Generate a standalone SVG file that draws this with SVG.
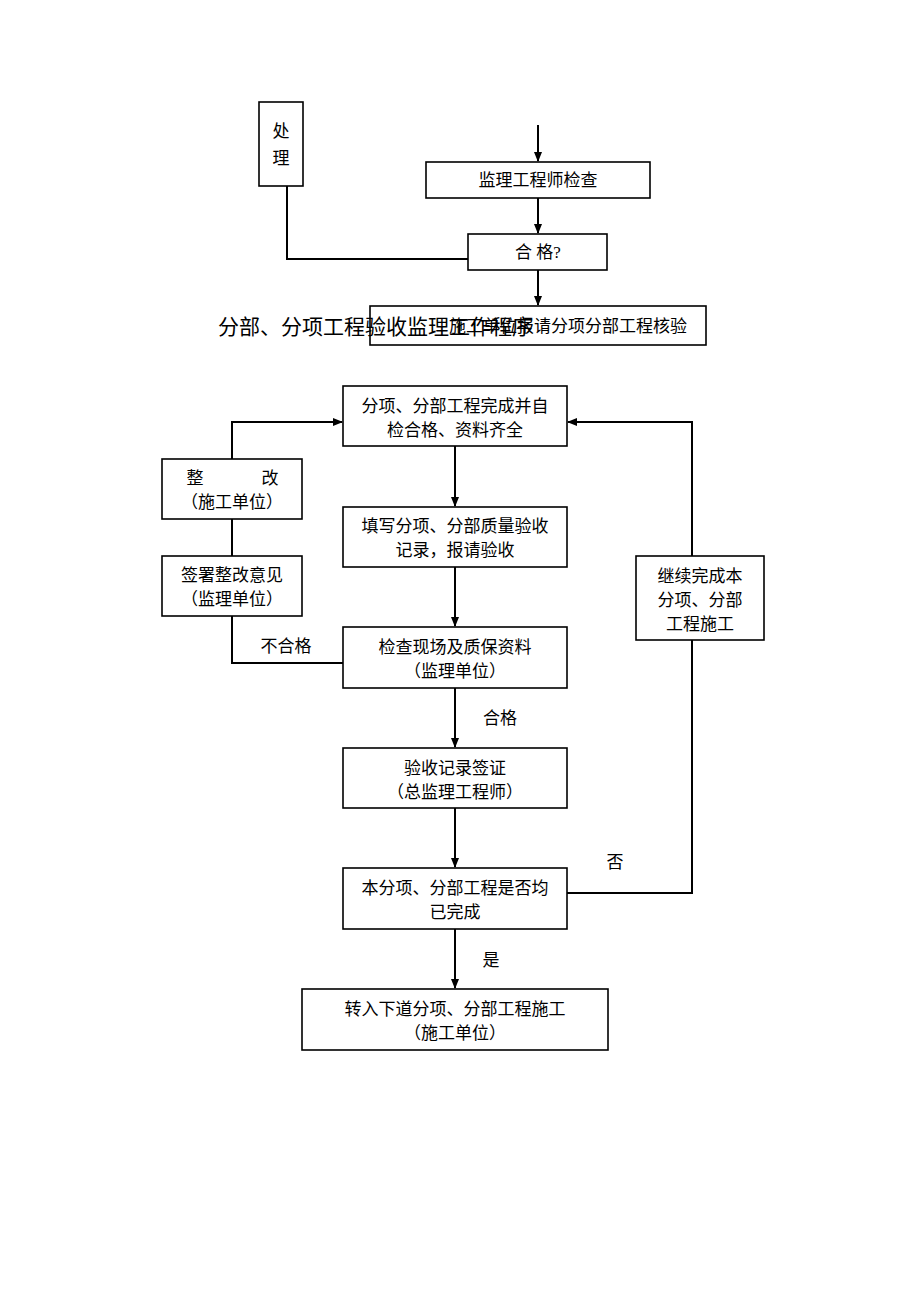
<svg xmlns="http://www.w3.org/2000/svg" width="920" height="1302" viewBox="0 0 920 1302">
<style>
.box{fill:#fff;stroke:#000;stroke-width:1.6}
.ln{fill:none;stroke:#000;stroke-width:2}
.t{font-family:"Liberation Serif","Noto Sans CJK SC",serif;font-size:17px;fill:#000;text-anchor:middle}
.title{font-family:"Liberation Serif","Noto Sans CJK SC",serif;font-size:21px;fill:#000}
</style>
<defs>
<marker id="ah" markerWidth="10" markerHeight="10" refX="9" refY="5" orient="auto" markerUnits="userSpaceOnUse">
<path d="M0,1 L10,5 L0,9 Z" fill="#000"/>
</marker>
</defs>
<rect width="920" height="1302" fill="#fff"/>
<g id="connectors">
<line class="ln" x1="538" y1="125" x2="538" y2="161" marker-end="url(#ah)"/>
<line class="ln" x1="538" y1="198" x2="538" y2="233" marker-end="url(#ah)"/>
<line class="ln" x1="538" y1="270" x2="538" y2="305" marker-end="url(#ah)"/>
<polyline class="ln" points="287,186 287,259 468,259"/>
<line class="ln" x1="455" y1="446" x2="455" y2="506" marker-end="url(#ah)"/>
<line class="ln" x1="455" y1="567" x2="455" y2="626" marker-end="url(#ah)"/>
<line class="ln" x1="455" y1="688" x2="455" y2="747" marker-end="url(#ah)"/>
<line class="ln" x1="455" y1="808" x2="455" y2="867" marker-end="url(#ah)"/>
<line class="ln" x1="455" y1="929" x2="455" y2="988" marker-end="url(#ah)"/>
<polyline class="ln" points="567,893 692,893 692,422 568,422" marker-end="url(#ah)"/>
<polyline class="ln" points="343,663 232,663 232,422 342,422" marker-end="url(#ah)"/>
<text class="t" x="500" y="724">合格</text>
<text class="t" x="491" y="966">是</text>
<text class="t" x="615" y="868">否</text>
<text class="t" x="286" y="652">不合格</text>
</g>
<g id="n-chuli">
<rect class="box" x="259" y="102" width="44" height="84"/>
<text class="t" x="281" y="137">处</text>
<text class="t" x="281" y="164">理</text>
</g>
<g id="n-check">
<rect class="box" x="426" y="162" width="224" height="36"/>
<text class="t" x="538" y="186">监理工程师检查</text>
</g>
<g id="n-pass">
<rect class="box" x="468" y="234" width="139" height="36"/>
<text class="t" x="538" y="258">合  格?</text>
</g>
<g id="n-apply">
<rect class="box" x="370" y="306" width="336" height="39"/>
<text class="t" x="687" y="332" style="text-anchor:end">施工单位报请分项分部工程核验</text>
</g>
<g id="title">
<text class="title" x="218" y="334">分部、分项工程验收监理工作程序</text>
</g>
<g id="n-a">
<rect class="box" x="343" y="386" width="224" height="60"/>
<text class="t" x="455" y="412">分项、分部工程完成并自</text>
<text class="t" x="455" y="436">检合格、资料齐全</text>
</g>
<g id="n-b">
<rect class="box" x="343" y="507" width="224" height="60"/>
<text class="t" x="455" y="532">填写分项、分部质量验收</text>
<text class="t" x="455" y="556">记录，报请验收</text>
</g>
<g id="n-c">
<rect class="box" x="343" y="627" width="224" height="61"/>
<text class="t" x="455" y="653">检查现场及质保资料</text>
<text class="t" x="455" y="677">（监理单位）</text>
</g>
<g id="n-d">
<rect class="box" x="343" y="748" width="224" height="60"/>
<text class="t" x="455" y="774">验收记录签证</text>
<text class="t" x="455" y="798">（总监理工程师）</text>
</g>
<g id="n-e">
<rect class="box" x="343" y="868" width="224" height="61"/>
<text class="t" x="455" y="894">本分项、分部工程是否均</text>
<text class="t" x="455" y="918">已完成</text>
</g>
<g id="n-f">
<rect class="box" x="302" y="989" width="306" height="61"/>
<text class="t" x="455" y="1015">转入下道分项、分部工程施工</text>
<text class="t" x="455" y="1039">（施工单位）</text>
</g>
<g id="n-fix">
<rect class="box" x="162" y="459" width="140" height="60"/>
<text class="t" x="195" y="484">整</text>
<text class="t" x="270" y="484">改</text>
<text class="t" x="232" y="508">（施工单位）</text>
</g>
<g id="n-sign">
<rect class="box" x="162" y="556" width="140" height="60"/>
<text class="t" x="232" y="581">签署整改意见</text>
<text class="t" x="232" y="605">（监理单位）</text>
</g>
<g id="n-cont">
<rect class="box" x="636" y="556" width="128" height="84"/>
<text class="t" x="700" y="582">继续完成本</text>
<text class="t" x="700" y="606">分项、分部</text>
<text class="t" x="700" y="630">工程施工</text>
</g>
</svg>
